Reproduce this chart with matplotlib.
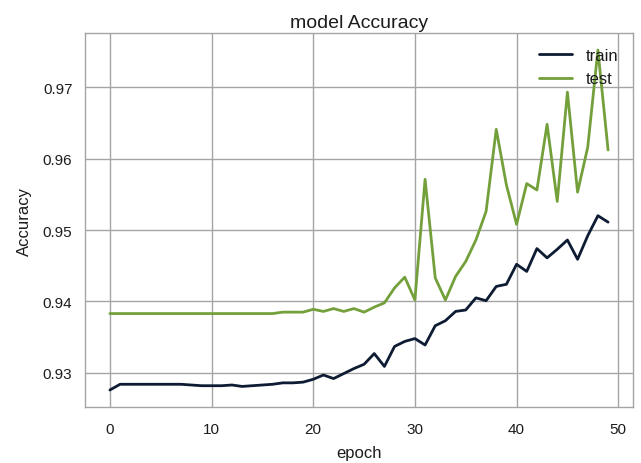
import matplotlib
matplotlib.use("Agg")
import matplotlib.pyplot as plt

# Per-epoch accuracy history
epochs = list(range(50))
train_acc = [
    0.9276, 0.9284, 0.9284, 0.9284, 0.9284, 0.9284, 0.9284, 0.9284, 0.9283, 0.9282,
    0.9282, 0.9282, 0.9283, 0.9281, 0.9282, 0.9283, 0.9284, 0.9286, 0.9286, 0.9287,
    0.9291, 0.9297, 0.9292, 0.9299, 0.9306, 0.9312, 0.9327, 0.9309, 0.9337, 0.9344,
    0.9348, 0.9339, 0.9366, 0.9373, 0.9386, 0.9388, 0.9405, 0.9401, 0.9421, 0.9424,
    0.9452, 0.9442, 0.9474, 0.9461, 0.9473, 0.9486, 0.9459, 0.9492, 0.9520, 0.9511,
]
test_acc = [
    0.9383, 0.9383, 0.9383, 0.9383, 0.9383, 0.9383, 0.9383, 0.9383, 0.9383, 0.9383,
    0.9383, 0.9383, 0.9383, 0.9383, 0.9383, 0.9383, 0.9383, 0.9385, 0.9385, 0.9385,
    0.9389, 0.9386, 0.9390, 0.9386, 0.9390, 0.9385, 0.9392, 0.9398, 0.9419, 0.9434,
    0.9402, 0.9571, 0.9433, 0.9402, 0.9435, 0.9456, 0.9486, 0.9526, 0.9641, 0.9563,
    0.9508, 0.9565, 0.9556, 0.9648, 0.9540, 0.9693, 0.9553, 0.9616, 0.9752, 0.9612,
]
series_names = ["train", "test"]

plt.rcParams["font.family"] = ["Liberation Sans", "DejaVu Sans"]
plt.rcParams["text.color"] = "#1c1c1c"
plt.rcParams["axes.labelcolor"] = "#1c1c1c"
plt.rcParams["xtick.color"] = "#1c1c1c"
plt.rcParams["ytick.color"] = "#1c1c1c"

fig = plt.figure(figsize=(6.41, 4.64), dpi=100)
fig.subplots_adjust(left=0.1326, right=0.9875, top=0.9267, bottom=0.1207)
ax = fig.add_subplot(111)

ax.plot(epochs, train_acc, color="#0d1b33", linewidth=2.0, label=series_names[0],
        solid_capstyle="round")
ax.plot(epochs, test_acc, color="#74a03c", linewidth=2.0, label=series_names[1],
        solid_capstyle="round")

ax.set_axisbelow(True)
ax.grid(True, color="#a4a4a4", linewidth=1.0)
for spine in ax.spines.values():
    spine.set_color("#a4a4a4")
    spine.set_linewidth(1.0)

ax.set_xticks([0, 10, 20, 30, 40, 50])
ax.set_yticks([0.93, 0.94, 0.95, 0.96, 0.97])
ax.tick_params(axis="both", length=0, labelsize=11)
ax.tick_params(axis="x", pad=11)
ax.tick_params(axis="y", pad=9)

ax.set_title("model Accuracy", fontsize=14, pad=4)
ax.set_xlabel("epoch", fontsize=12, labelpad=6)
ax.set_ylabel("Accuracy", fontsize=12, labelpad=8)

ax.legend(loc="upper right", frameon=False, fontsize=12)

fig.savefig("out.png", dpi=100)
